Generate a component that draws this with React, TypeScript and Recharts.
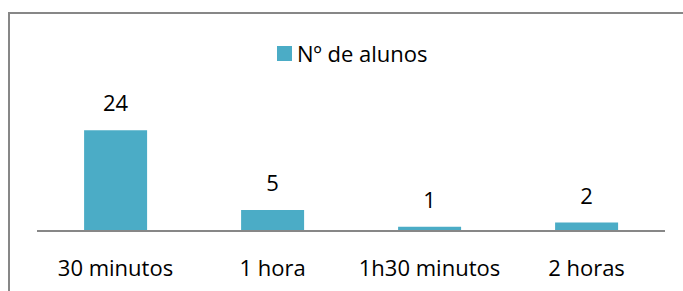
import React from 'react';
import { BarChart, Bar, XAxis, YAxis, LabelList } from 'recharts';

const categorias = ['30 minutos', '1 hora', '1h30 minutos', '2 horas'];
const alunos = [24, 5, 1, 2];
const serieNome = 'Nº de alunos';

const data = categorias.map((c, i) => ({ tempo: c, alunos: alunos[i] }));

const COR = '#4BACC6';
const FONTE = '"Open Sans", sans-serif';
const TAM = 22;

export default function App() {
  return (
    <div
      style={{
        position: 'fixed',
        left: 0,
        top: 0,
        width: 683,
        height: 291,
        overflow: 'hidden',
        background: '#fff',
      }}
    >
      <div
        style={{
          position: 'absolute',
          left: 8,
          top: 12,
          width: 720,
          height: 320,
          border: '2px solid #878787',
          boxSizing: 'border-box',
        }}
      />
      {/* legenda */}
      <div
        style={{
          position: 'absolute',
          left: 277,
          top: 38,
          height: 30,
          display: 'flex',
          alignItems: 'center',
          fontFamily: FONTE,
          fontSize: TAM,
          lineHeight: '30px',
          color: '#000',
        }}
      >
        <span style={{ display: 'inline-block', width: 15, height: 15, background: COR, marginRight: 5 }} />
        <span>{serieNome}</span>
      </div>
      <div style={{ position: 'absolute', left: 0, top: 0 }}>
        <BarChart
          width={683}
          height={291}
          data={data}
          margin={{ top: 105, right: 18, bottom: 30, left: 37 }}
          barCategoryGap="30%"
        >
          <YAxis hide domain={[0, 30]} />
          <XAxis
            dataKey="tempo"
            height={30}
            axisLine={{ stroke: '#878787', strokeWidth: 2 }}
            tickLine={false}
            tickSize={0}
            tickMargin={29}
            tick={{ fill: '#000', fontSize: TAM, fontFamily: FONTE }}
            interval={0}
          />
          <Bar dataKey="alunos" name={serieNome} fill={COR} isAnimationActive={false}>
            <LabelList
              dataKey="alunos"
              position="top"
              offset={19}
              fill="#000"
              fontSize={TAM}
              fontFamily={FONTE}
            />
          </Bar>
        </BarChart>
      </div>
    </div>
  );
}
